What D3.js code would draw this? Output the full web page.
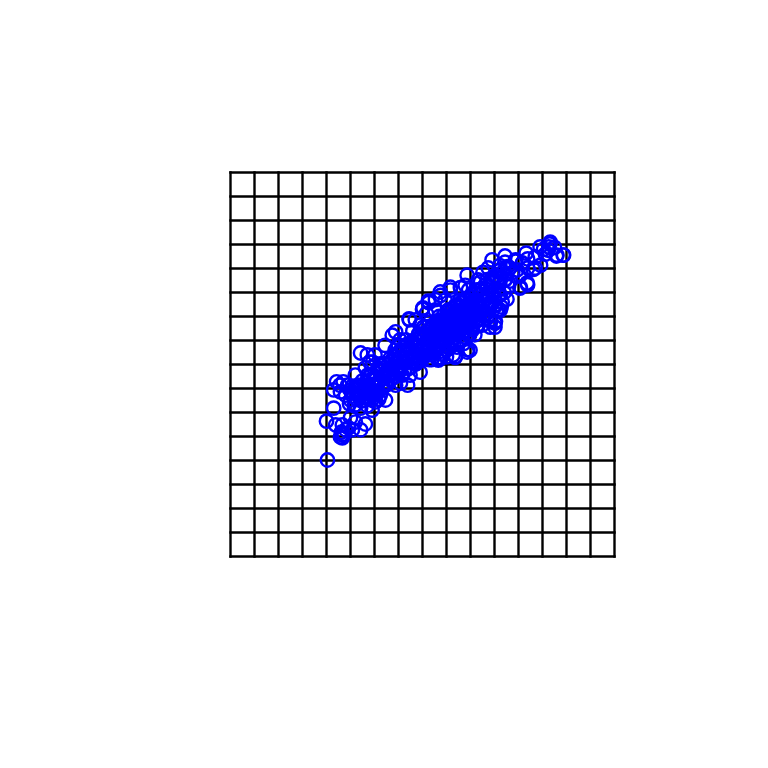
<!DOCTYPE html>
<html><head><meta charset="utf-8">
<script src="https://cdnjs.cloudflare.com/ajax/libs/d3/7.8.5/d3.min.js"></script>
<style>html,body{margin:0;padding:0;background:#fff}svg{display:block}</style>
</head><body>
<script>
const gridTicks = [-4,-3.5,-3,-2.5,-2,-1.5,-1,-0.5,0,0.5,1,1.5,2,2.5,3,3.5,4];
const xValues = [
-1.98,-2.00,-1.85,-1.71,-1.67,-1.69,-1.60,-1.67,-1.54,-1.81,
-1.46,-1.29,-1.19,-1.40,-1.50,-1.67,-1.63,-1.85,-1.79,-1.65,
-1.56,-1.46,-1.71,-1.60,-1.38,-1.29,-1.19,-1.50,-1.40,-1.29,
-1.15,-0.98,-0.77,-0.88,-1.04,-1.13,-0.98,-1.29,-1.15,-1.10,
-1.19,-1.04,-0.92,-0.79,-0.67,-0.56,-0.46,-0.31,-0.63,-0.56,
-0.27,-0.35,-0.50,-1.22,-1.16,-1.12,-1.08,-1.03,-0.99,-0.95,
-0.91,-0.87,-0.84,-0.81,-0.78,-0.74,-0.71,-0.68,-0.65,-0.62,
-0.59,-0.56,-0.53,-0.50,-0.47,-0.44,-0.41,-0.38,-0.35,-0.32,
-0.29,-0.26,-0.23,-0.20,-0.17,-0.14,-0.11,-0.08,-0.05,-0.02,
0.01,0.04,0.07,-1.45,-1.38,-1.33,-1.27,-1.22,-1.17,-1.11,
-1.06,-1.01,-0.95,0.10,0.13,0.16,0.19,0.22,0.25,0.28,
0.31,0.34,0.37,0.40,0.42,0.44,0.46,0.48,0.50,0.52,
0.54,0.56,0.58,0.60,0.62,0.64,0.66,0.68,0.70,0.72,
0.74,0.76,0.78,0.80,0.82,0.84,0.86,0.88,0.90,0.92,
0.94,0.96,0.98,1.00,1.03,1.06,1.09,1.12,1.15,1.18,
1.21,1.24,1.27,1.30,1.34,1.38,1.42,1.46,1.50,1.54,
1.58,1.62,1.66,0.22,0.27,0.31,0.35,0.39,0.43,0.47,
0.51,0.55,0.59,0.63,0.67,0.71,0.75,0.79,0.83,0.87,
0.91,0.95,0.99,0.36,0.41,0.46,0.52,0.57,0.61,0.66,
0.69,0.73,0.77,0.81,0.85,0.89,0.93,0.65,0.70,0.75,
1.77,1.46,1.35,1.21,0.96,1.94,2.08,2.19,2.19,2.46,
2.63,2.65,2.56,2.79,2.94,2.19,2.04,1.58,1.52,1.42,
0.98,0.94,0.69,0.38,0.27,0.0,0.13,0.08,0.38,0.58,
0.79,1.88,1.72,1.61,1.83,1.94,2.02,2.31,2.52,2.75,
-0.20,-0.14,-0.08,-0.03,0.02,0.07,0.11,0.15,0.19,0.23,
-1.52,-1.48,-1.42,-1.36,-1.31,-1.25,-1.20,-1.14,-1.09,-1.02,
-0.97,-0.93,-0.89,-0.85,-0.80,-0.76,-0.72,-0.69,-0.64,-0.60,
-0.57,-0.54,-0.51,-0.48,-0.45,-0.42,-0.39,-0.36,-0.33,-0.30,
-0.28,-0.25,-0.22,-0.19,-0.16,-0.13,-0.10,-0.07,-0.04,-0.01,
0.02,0.05,0.08,0.11,0.14,0.17,0.20,0.23,0.26,0.29,
0.32,0.35,0.38,0.41,0.44,0.47,0.50,0.53,0.56,0.59,
0.62,0.65,0.68,0.71,0.74,0.77,0.80,0.83,0.86,0.89,
0.92,0.95,0.98,1.01,1.04,1.07,1.10,1.13,1.16,1.19,
1.22,1.25,1.28,1.31,1.34,1.37,1.40,1.43,1.46,1.49,
1.52,1.55,1.58,1.61,1.64,1.67,1.70,1.73,1.76,1.79,
0.28,0.33,0.37,0.43,0.49,0.55,0.61,0.67,0.73,0.79,
0.85,0.91,0.97,1.03,1.09,1.15,0.30,0.40,0.50,0.60,
0.70,0.80,0.90,1.00,1.10,1.20,0.45,0.55,0.65,0.75,
0.85,0.95,1.05,0.58,0.68,0.78,0.88,0.98,0.48,0.72,
-0.28,0.12,0.01,0.37,0.58,0.93,1.45,1.72,1.72,2.16,
2.08,2.35,2.45,2.66,2.62,2.93,2.80,2.35,2.18,2.03,
1.97,1.62,1.51,1.51,0.99,0.68,0.33,-0.05,1.41,0.93,
1.26,1.37,1.16,1.51,1.62,1.72,1.41,1.62,1.30,1.82,
1.20,1.10,0.99,0.89,1.51,1.30,1.16,0.99,0.78,0.47,
0.26,-0.05,-0.15,-0.47,-0.57,-0.78,-0.99,-0.26,-0.15,0.05,
-0.47,-0.67,-0.78,-0.99,-0.57,-0.88,-1.09,-1.40,-1.34,-1.51,
-1.72,-1.20,-1.05
];
const yValues = [
-1.99,-1.18,-0.91,-1.51,-1.47,-1.41,-1.36,-1.26,-1.32,-1.26,
-1.36,-1.36,-1.24,-1.20,-1.11,-1.53,-1.45,-0.53,-0.36,-0.36,
-0.43,-0.45,-0.57,-0.64,-0.53,-0.57,-0.49,-0.74,-0.84,-0.91,
-0.86,-0.78,-0.74,-0.64,-0.57,-0.43,-0.32,0.24,0.20,0.05,
-0.07,0.05,-0.11,-0.22,-0.32,-0.43,-0.39,-0.43,0.61,0.68,
0.93,0.51,0.41,-0.68,-0.38,-0.72,-0.25,-0.60,-0.18,-0.48,
-0.72,-0.12,-0.50,-0.28,0.02,-0.42,-0.10,0.12,-0.30,-0.05,
0.18,-0.25,0.05,-0.18,0.28,-0.02,0.35,-0.15,0.15,0.42,
-0.08,0.25,0.05,0.48,0.12,0.36,0.05,0.55,0.22,0.62,
0.14,0.40,0.28,-0.66,-0.72,-0.62,-0.76,-0.56,-0.66,-0.50,
-0.74,-0.44,-0.62,0.30,0.72,0.48,0.20,0.82,0.38,0.62,
0.14,0.92,0.50,0.28,0.70,1.02,0.44,0.86,0.16,0.58,
1.14,0.34,0.76,0.98,0.50,0.20,0.82,1.22,0.62,0.36,
1.06,0.90,0.52,1.28,0.74,0.98,0.44,1.14,0.84,1.36,
0.62,1.02,1.24,0.78,1.46,1.10,0.62,1.30,0.92,1.56,
1.16,0.82,1.42,1.04,1.62,1.26,0.90,1.70,1.40,1.12,
1.56,1.78,1.30,0.58,0.74,0.52,0.80,0.62,0.88,0.70,
0.96,0.78,0.60,1.04,0.86,0.70,1.12,0.92,0.76,1.18,
1.00,0.84,1.26,0.66,0.84,0.60,0.78,0.98,0.72,0.92,
1.10,0.82,1.02,1.20,0.90,1.12,1.06,0.66,0.78,0.88,
2.04,1.81,1.77,1.72,1.55,2.18,2.11,2.01,2.20,2.07,
2.45,2.51,2.30,2.26,2.28,1.66,1.61,1.14,0.90,0.94,
0.61,0.31,0.17,0.13,1.35,1.15,1.29,1.06,1.44,1.55,
1.60,1.92,1.88,2.06,1.74,2.15,1.84,1.98,2.40,2.44,
0.70,0.20,0.64,0.34,0.78,0.26,0.52,0.88,0.10,0.44,
-0.82,-0.58,-0.86,-0.46,-0.70,-0.34,-0.60,-0.22,-0.52,-0.30,
-0.40,-0.08,-0.34,-0.02,-0.22,-0.38,0.00,-0.18,0.08,-0.24,
0.10,-0.12,0.22,-0.04,0.14,-0.22,0.30,0.04,0.38,0.10,
0.32,-0.06,0.44,0.18,0.52,0.02,0.28,0.62,0.08,0.36,
0.56,0.18,0.68,0.42,0.10,0.54,0.76,0.26,0.64,0.88,
0.42,1.00,0.22,0.68,0.48,0.94,0.30,1.10,0.56,0.84,
1.16,0.42,0.94,0.70,1.24,0.48,0.96,1.32,0.68,1.08,
0.56,1.20,0.88,1.40,0.72,1.06,1.48,0.80,1.22,0.96,
1.56,1.02,1.34,1.66,0.96,1.44,1.18,1.74,1.28,1.54,
1.22,1.84,1.44,1.70,1.20,1.92,1.50,1.78,1.36,1.62,
0.70,0.90,0.56,0.76,1.00,0.64,0.86,1.06,0.74,0.94,
1.14,0.82,1.08,1.22,0.96,1.32,0.64,0.80,0.72,0.90,
1.04,0.86,0.98,1.16,1.02,1.26,0.94,0.86,1.00,1.08,
0.92,1.00,1.12,0.74,0.84,0.70,0.78,0.88,0.76,0.80,
0.95,1.32,1.18,1.51,1.61,1.86,2.18,2.26,2.13,2.32,
2.11,2.01,2.45,2.55,2.38,2.28,2.28,2.24,1.70,1.59,
1.97,1.13,0.86,0.78,0.30,0.15,0.09,-0.16,0.78,0.26,
1.92,2.01,1.76,1.86,1.97,1.76,1.55,1.45,1.34,2.01,
1.45,1.55,1.34,1.65,1.24,1.03,0.82,0.93,1.34,1.34,
1.13,0.82,0.93,0.51,0.30,0.40,0.20,-0.22,0.01,0.20,
-0.11,-0.22,-0.43,-0.64,0.01,0.01,-0.22,-0.22,-0.43,-0.53,
-0.43,-0.74,-0.95
];
const W = 768, H = 768;
const svg = d3.select("body").append("svg").attr("width", W).attr("height", H).style("background", "#fff");
const x = d3.scaleLinear().domain([-4, 4]).range([230.5, 614.5]);
const y = d3.scaleLinear().domain([-4, 4]).range([556.5, 172.5]);
const black = "#000", blue = "#0000ff";
svg.append("g").selectAll("line").data(gridTicks).join("line")
  .attr("x1", d => x(d)).attr("x2", d => x(d)).attr("y1", y(-4)).attr("y2", y(4))
  .attr("stroke", black).attr("stroke-width", 2.4).attr("stroke-linecap", "square");
svg.append("g").selectAll("line").data(gridTicks).join("line")
  .attr("y1", d => y(d)).attr("y2", d => y(d)).attr("x1", x(-4)).attr("x2", x(4))
  .attr("stroke", black).attr("stroke-width", 2.4).attr("stroke-linecap", "square");
const pts = xValues.map((v, i) => [v, yValues[i]]);
svg.append("g").selectAll("circle").data(pts).join("circle")
  .attr("cx", d => x(d[0])).attr("cy", d => y(d[1])).attr("r", 6.7)
  .attr("fill", "none").attr("stroke", blue).attr("stroke-width", 2.4);
</script>
</body></html>
